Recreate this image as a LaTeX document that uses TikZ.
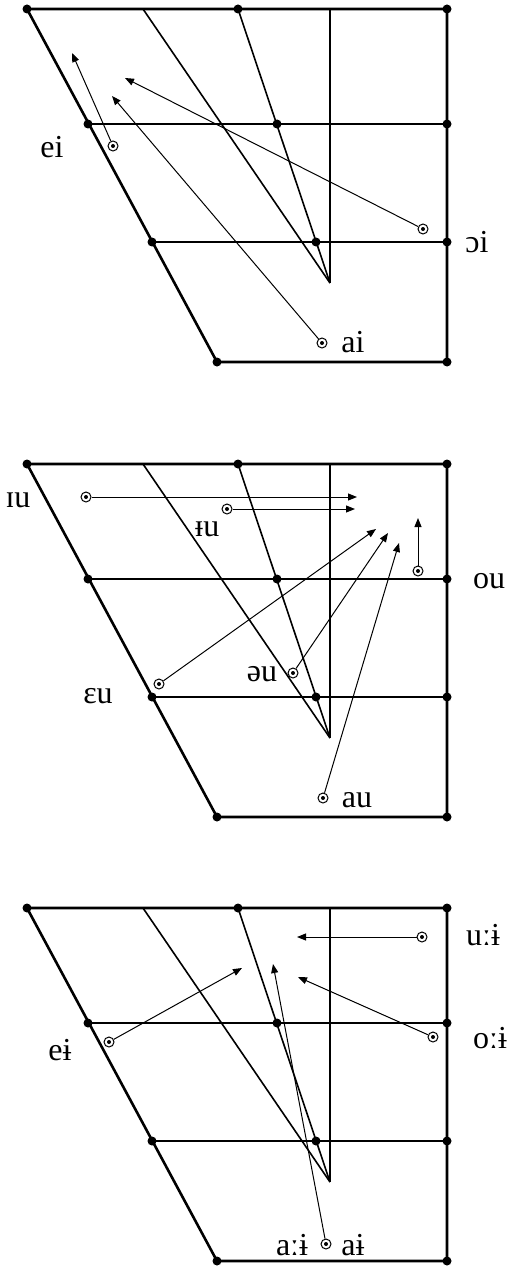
\documentclass[tikz,border=0pt]{standalone}
\usepackage{fontspec}
\setmainfont{Liberation Serif}
\usetikzlibrary{arrows.meta}
\tikzstyle{gdot}=[circle, fill=black, inner sep=0pt, minimum size=9pt]
\tikzstyle{frame}=[line width=2.6pt, line join=round]
\tikzstyle{gline}=[line width=1.6pt]
\tikzstyle{vmark}=[circle, draw, line width=1pt, minimum size=10pt,
  inner sep=0pt, path picture={\fill (path picture bounding box.center) circle (2pt);}]
\tikzstyle{vlab}=[font=\fontsize{32}{38}\selectfont, inner sep=0pt, anchor=base]
\tikzstyle{varr}=[-{Triangle[length=9pt,width=7pt]}, line width=1pt]

\begin{document}
\begin{tikzpicture}[x=1pt,y=-1pt]
  \useasboundingbox (0,0) rectangle (509,1268);
  % the three vowel charts
  \foreach \k/\dy in {1/0,2/455,3/899}{
    \begin{scope}[yshift=-\dy pt]
      \node[gdot] (tl\k) at (27,9) {};
      \node[gdot] (tm\k) at (238,9) {};
      \node[gdot] (tr\k) at (447,9) {};
      \node[gdot] (ml\k) at (88,124) {};
      \node[gdot] (mm\k) at (277,124) {};
      \node[gdot] (mr\k) at (447,124) {};
      \node[gdot] (ll\k) at (152,242) {};
      \node[gdot] (lm\k) at (316,242) {};
      \node[gdot] (lr\k) at (447,242) {};
      \node[gdot] (bl\k) at (217,362) {};
      \node[gdot] (br\k) at (447,362) {};
      \coordinate (ct\k) at (143,9);
      \coordinate (vt\k) at (330,9);
      \coordinate (vx\k) at (330,283);
      \draw[frame] (tl\k.center) -- (tr\k.center) -- (br\k.center) -- (bl\k.center) -- cycle;
      \draw[gline] (ml\k.center) -- (mr\k.center);
      \draw[gline] (ll\k.center) -- (lr\k.center);
      \draw[gline] (ct\k) -- (vx\k);
      \draw[gline] (vt\k) -- (vx\k);
      \draw[gline] (tm\k.center) -- (vx\k);
    \end{scope}
  }

  % chart 1
  \node[vmark] (mei) at (113,146) {};
  \node[vlab] (lei) at (52,158) {ei};
  \node[vmark] (mai) at (322,343) {};
  \node[vlab] (lai) at (353,352) {ai};
  \node[vmark] (moi) at (423,229) {};
  \node[vlab] (loi) at (477,252) {ɔi};
  \coordinate (tei) at (72,53);
  \coordinate (tai) at (112,96);
  \coordinate (toi) at (125,78);
  \draw[varr] (mei) -- (tei);
  \draw[varr] (mai) -- (tai);
  \draw[varr] (moi) -- (toi);

  % chart 2
  \node[vmark] (miu) at (86,497) {};
  \node[vlab] (liu) at (18,507) {ɪu};
  \node[vmark] (mbu) at (227,509) {};
  \node[vlab] (lbu) at (207,536) {ᵻu};
  \node[vmark] (mou) at (418,571) {};
  \node[vlab] (lou) at (489,588) {ou};
  \node[vmark] (meu) at (159,684) {};
  \node[vlab] (leu) at (98,703) {ɛu};
  \node[vmark] (mschwa) at (293,673) {};
  \node[vlab] (lschwa) at (262,681) {əu};
  \node[vmark] (mau) at (323,798) {};
  \node[vlab] (lau) at (357,807) {au};
  \coordinate (tiu) at (357,497);
  \coordinate (tbu) at (355,509);
  \coordinate (tou) at (418,518);
  \coordinate (teu) at (376,529);
  \coordinate (tschwa) at (388,533);
  \coordinate (tau) at (399,543);
  \draw[varr] (miu) -- (tiu);
  \draw[varr] (mbu) -- (tbu);
  \draw[varr] (mou) -- (tou);
  \draw[varr] (meu) -- (teu);
  \draw[varr] (mschwa) -- (tschwa);
  \draw[varr] (mau) -- (tau);

  % chart 3
  \node[vmark] (muy) at (422,937) {};
  \node[vlab] (luy) at (483,945) {uːɨ};
  \node[vmark] (moy) at (433,1037) {};
  \node[vlab] (loy) at (490,1048) {oːɨ};
  \node[vmark] (mey) at (109,1042) {};
  \node[vlab] (ley) at (60,1060) {eɨ};
  \node[vmark] (may) at (326,1244) {};
  \node[vlab] (llong) at (292,1255) {aːɨ};
  \node[vlab] (lshort) at (353,1255) {aɨ};
  \coordinate (tuy) at (297,937);
  \coordinate (toy) at (298,977);
  \coordinate (tey) at (242,968);
  \coordinate (tay) at (273,964);
  \draw[varr] (muy) -- (tuy);
  \draw[varr] (moy) -- (toy);
  \draw[varr] (mey) -- (tey);
  \draw[varr] (may) -- (tay);
\end{tikzpicture}
\end{document}
